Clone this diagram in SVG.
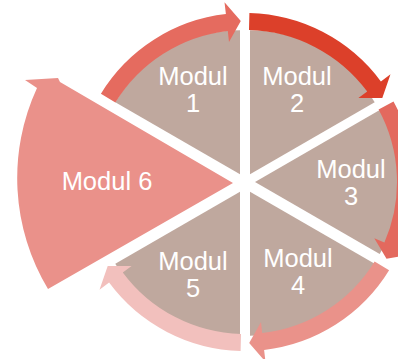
<svg xmlns="http://www.w3.org/2000/svg" width="398" height="359" viewBox="0 0 398 359">
<style>
.w{fill:#BFA89E;}
.t{font-family:"Liberation Sans",Arial,sans-serif;font-size:25.5px;fill:#FFFFFF;text-anchor:middle;}
</style>
<rect width="398" height="359" fill="#FFFFFF"/>
<g id="node1">
<path class="w" d="M240,174.3 L115.3,102.3 A144,144 0 0 1 240,30.3 Z"/>
<text class="t" x="193" y="85">Modul</text>
<text class="t" x="193" y="112">1</text>
</g>
<g id="node2">
<path class="w" d="M250,174.3 L250,30.3 A144,144 0 0 1 374.7,102.3 Z"/>
<text class="t" x="297" y="85">Modul</text>
<text class="t" x="297" y="112">2</text>
</g>
<g id="node3">
<path class="w" d="M255,182 L379.7,110 A144,144 0 0 1 379.7,254 Z"/>
<text class="t" x="351" y="178">Modul</text>
<text class="t" x="351" y="205">3</text>
</g>
<g id="node4">
<path class="w" d="M250,191.7 L374.7,263.7 A144,144 0 0 1 250,335.7 Z"/>
<text class="t" x="298" y="267">Modul</text>
<text class="t" x="298" y="294">4</text>
</g>
<g id="node5">
<path class="w" d="M240,191.7 L240,335.7 A144,144 0 0 1 115.3,263.7 Z"/>
<text class="t" x="193" y="270">Modul</text>
<text class="t" x="193" y="297">5</text>
</g>
<g id="node6">
<path fill="#EA918A" d="M233,183 L60,82 L58,78 L25,80 L37,88 A215,215 0 0 0 48,289 Z"/>
<text class="t" x="107" y="190">Modul 6</text>
</g>
<g id="connectors">
<path fill="#E56B5F" d="M100.9,93.7 A169,169 0 0 1 225.9,14.1 L224.5,2.2 L240.8,21.1 L229,41.9 L227.8,31 A152,152 0 0 0 115.4,102.6 Z"/>
<path fill="#DC402A" d="M249.4,13.1 A169,169 0 0 1 380.9,81.5 L390.5,74.3 L382.3,97.9 L358.4,98.1 L367.2,91.6 A152,152 0 0 0 249,30.1 Z"/>
<path fill="#E3695E" d="M393.5,101.4 A169,169 0 0 1 400,249.4 L411,254.2 L386.5,258.8 L374.3,238.2 L384.4,242.6 A152,152 0 0 0 378.6,109.5 Z"/>
<path fill="#EA928A" d="M389.1,270.3 A169,169 0 0 1 264.1,349.9 L265.5,361.8 L249.2,342.9 L261,322.1 L262.2,333 A152,152 0 0 0 374.6,261.4 Z"/>
<path fill="#F2C0BD" d="M240.6,350.9 A169,169 0 0 1 109.1,282.5 L99.5,289.7 L107.7,266.1 L131.6,265.9 L122.8,272.4 A152,152 0 0 0 241,333.9 Z"/>
</g>
</svg>
